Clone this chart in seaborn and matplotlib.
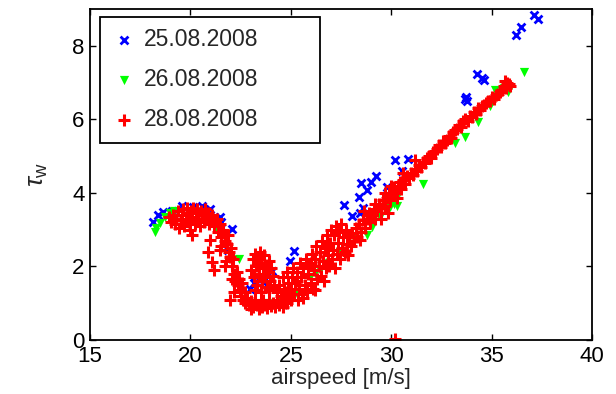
import matplotlib
matplotlib.use("Agg")
import matplotlib.pyplot as plt
import seaborn as sns
import pandas as pd

# ---------------- data ----------------
labels = ["25.08.2008", "26.08.2008", "28.08.2008"]
colors = ["#0000ff", "#00ff00", "#ff0000"]

blue_x = [37.1, 37.3, 36.45, 36.2, 34.27, 34.5, 34.62, 33.73, 33.78, 33.7,
          30.17, 30.86, 30.54, 29.25, 28.99, 28.5, 28.8, 28.38, 29.79, 27.65,
          28.07, 28.45, 28.6, 25.14, 24.96, 24.08, 23.6, 23.17, 22.95, 18.14,
          18.39, 18.62, 19.1, 19.58, 20.13, 20.6, 20.98, 21.45, 21.5, 22.08,
          21.85, 23.25]
blue_y = [8.84, 8.72, 8.52, 8.3, 7.24, 7.12, 7.08, 6.62, 6.5, 6.55,
          4.9, 4.93, 4.6, 4.45, 4.3, 4.28, 4.08, 3.89, 4.15, 3.67,
          3.36, 3.45, 3.6, 2.43, 2.15, 1.87, 1.58, 1.55, 1.4, 3.22,
          3.4, 3.47, 3.52, 3.63, 3.62, 3.65, 3.55, 3.34, 3.2, 3.02,
          2.45, 1.58]

green_x = [36.61, 35.17, 35.8, 35.6, 34.92, 34.32, 33.18, 33.68, 31.56, 30.34,
           29.94, 30.29, 30.15, 29.44, 29.04, 28.77, 28.15, 27.6, 27.45, 26.2,
           25.96, 26.45, 23.8, 18.24, 18.3, 18.49, 18.74, 18.98, 19.2, 24.5,
           25.3, 26.9, 22.4, 21.3]
green_y = [7.3, 6.8, 6.75, 6.85, 6.35, 5.93, 5.36, 5.52, 4.25, 3.95,
           3.62, 3.65, 3.7, 3.35, 3.06, 2.86, 2.78, 2.39, 2.4, 1.82,
           1.7, 1.9, 1.0, 2.94, 3.05, 3.18, 3.35, 3.46, 3.5, 1.05,
           1.25, 2.1, 2.2, 3.0]

red_x = [
    # hump
    18.95, 19.05, 19.15, 19.25, 19.3, 19.4, 19.45, 19.55, 19.6, 19.65,
    19.7, 19.8, 19.85, 19.9, 19.95, 20.0, 20.05, 20.1, 20.15, 20.1,
    20.25, 20.3, 20.35, 20.4, 20.5, 20.55, 20.6, 20.7, 20.75, 20.8,
    20.9, 20.95, 21.05, 21.1, 21.2,
    # descent
    21.2, 21.3, 21.35, 21.45, 21.5, 21.6, 21.62, 21.5, 21.7, 21.8,
    21.85, 21.45, 21.9, 21.95, 22.0, 21.7, 21.75, 22.05, 22.1, 22.15,
    22.3, 22.05, 22.2, 22.35, 22.15, 22.45, 22.5, 22.6, 21.97, 22.7,
    20.98, 20.88, 21.1, 21.2, 22.4, 22.55,
    # bottom
    22.7, 22.8, 22.9, 23.0, 23.1, 23.2, 23.3, 23.4, 23.5, 23.55,
    23.6, 23.7, 23.8, 23.9, 24.0, 24.1, 24.2, 24.3, 24.4, 24.5,
    24.6, 24.7, 24.8, 23.0,
    # blob
    23.0, 23.1, 23.15, 23.2, 23.25, 23.3, 23.35, 23.4, 23.45, 23.5,
    23.55, 23.6, 23.65, 23.7, 23.75, 23.8, 23.85, 23.9, 23.95, 24.0,
    24.1, 23.2, 23.5, 23.9, 24.15,
    # broad rising band
    24.3, 24.4, 24.5, 24.6, 24.65, 24.75, 24.8, 24.85, 24.9, 25.0,
    25.05, 25.1, 25.15, 25.2, 25.3, 25.35, 25.4, 25.45, 25.5, 25.55,
    25.6, 25.7, 25.75, 25.8, 25.85, 25.9, 26.0, 26.05, 26.1, 26.15,
    26.2, 26.25, 26.3, 26.4, 26.45, 26.5, 26.55, 26.6, 26.65, 26.7,
    26.75, 26.8, 26.85, 26.9, 26.95, 27.0, 27.05, 27.1, 27.15, 27.2,
    27.25, 27.3, 27.35, 27.4, 27.45, 27.5, 27.55, 27.6, 27.7, 27.75,
    27.8, 27.9, 27.85, 25.0, 25.6, 26.2, 24.7, 25.3, 26.0, 26.8,
    # narrow rising band
    28.0, 28.05, 28.15, 28.25, 28.3, 28.45, 28.4, 28.5, 28.6, 28.7,
    28.8, 28.9, 28.95, 29.05, 29.15, 29.2, 29.3, 29.4, 29.5, 29.6,
    29.7, 29.8, 29.9, 29.95, 30.05, 30.15, 30.25, 30.35, 30.45, 30.5,
    30.6, 30.7, 30.8, 30.9, 31.0, 31.1, 31.2, 31.3, 31.4, 31.5,
    31.6, 31.7, 31.8, 31.9, 32.0, 32.1, 32.2, 32.3, 32.4, 32.5,
    32.6, 32.7, 32.8, 32.9, 33.0, 33.1, 33.2, 33.3, 33.4, 33.5,
    33.6, 33.7, 33.8, 33.9, 34.0, 34.1, 34.2, 34.3, 34.4, 34.5,
    34.6, 34.7, 34.8, 34.9, 35.0, 35.1, 35.2, 35.3, 35.4, 35.5,
    35.6, 35.7, 35.75, 35.85, 35.9, 35.65, 29.85, 30.3, 29.5, 30.6,
    31.2, 30.0, 29.2, 28.65, 29.7,
    # outlier
    30.2,
]
red_y = [
    # hump
    3.35, 3.2, 3.4, 3.15, 3.3, 3.5, 3.05, 3.25, 3.4, 3.55,
    3.1, 3.3, 3.6, 3.45, 3.2, 3.0, 3.5, 3.35, 3.6, 2.85,
    3.15, 3.45, 3.55, 3.3, 3.1, 3.5, 3.4, 3.2, 3.55, 3.35,
    3.45, 3.15, 3.3, 3.4, 3.25,
    # descent
    3.1, 3.3, 2.95, 3.15, 2.8, 3.0, 2.9, 2.55, 2.7, 2.6,
    2.85, 2.45, 2.4, 2.25, 2.5, 2.0, 2.15, 2.0, 2.2, 1.8,
    1.85, 1.65, 1.6, 1.5, 1.3, 1.35, 1.2, 1.1, 1.1, 1.3,
    2.72, 2.4, 2.12, 1.9, 1.65, 1.55,
    # bottom
    1.0, 1.15, 0.95, 1.05, 0.9, 1.1, 0.95, 0.85, 1.0, 0.9,
    1.1, 0.95, 0.88, 1.05, 0.92, 1.0, 0.9, 1.1, 0.95, 1.05,
    0.9, 1.15, 1.0, 0.85,
    # blob
    1.9, 2.2, 1.7, 2.35, 2.0, 1.5, 2.25, 1.8, 2.4, 2.1,
    1.6, 1.95, 2.3, 1.7, 2.05, 1.45, 1.85, 2.15, 1.6, 1.95,
    1.75, 1.35, 1.3, 1.35, 1.5,
    # broad rising band
    1.3, 1.5, 1.2, 1.7, 1.4, 1.3, 1.85, 1.55, 1.15, 1.4,
    1.7, 1.95, 1.25, 1.55, 1.85, 1.1, 1.4, 2.1, 1.7, 1.25,
    1.95, 1.5, 2.2, 1.3, 1.8, 2.05, 1.55, 2.35, 1.4, 1.9,
    2.2, 2.55, 1.65, 2.0, 2.4, 1.75, 2.7, 2.15, 1.6, 2.5,
    1.95, 2.85, 2.3, 2.0, 2.65, 3.0, 2.2, 2.45, 2.85, 1.95,
    3.1, 2.35, 2.65, 2.95, 2.2, 3.15, 2.5, 2.8, 2.4, 3.0,
    2.6, 2.85, 2.3, 1.1, 1.15, 1.35, 1.0, 1.6, 2.1, 2.55,
    # narrow rising band
    2.55, 2.9, 2.7, 3.05, 2.8, 2.72, 3.15, 2.95, 3.25, 3.05,
    3.3, 3.45, 3.2, 3.4, 3.55, 3.3, 3.5, 3.7, 3.6, 3.8,
    3.65, 3.85, 4.0, 3.8, 3.95, 4.15, 4.0, 4.2, 4.3, 4.1,
    4.35, 4.25, 4.45, 4.4, 4.55, 4.5, 4.65, 4.6, 4.75, 4.7,
    4.85, 4.8, 4.95, 5.0, 4.95, 5.1, 5.15, 5.2, 5.3, 5.25,
    5.4, 5.35, 5.45, 5.55, 5.5, 5.65, 5.7, 5.75, 5.85, 5.8,
    5.95, 6.0, 5.95, 6.1, 6.05, 6.2, 6.15, 6.3, 6.25, 6.35,
    6.4, 6.45, 6.5, 6.5, 6.6, 6.55, 6.65, 6.7, 6.75, 6.8,
    6.9, 6.85, 7.0, 6.95, 6.9, 7.05, 3.45, 3.85, 3.3, 4.55,
    4.9, 4.2, 3.7, 3.5, 4.0,
    # outlier
    0.03,
]

x_ticks = [15, 20, 25, 30, 35, 40]
y_ticks = [0, 2, 4, 6, 8]

# ---------------- plotting ----------------
sns.set_style("ticks")
plt.rcParams["font.family"] = ["Liberation Sans", "DejaVu Sans"]
plt.rcParams["mathtext.fontset"] = "custom"
plt.rcParams["mathtext.rm"] = "Liberation Sans"
plt.rcParams["mathtext.it"] = "Liberation Sans:italic"

fig = plt.figure(figsize=(6.16, 3.94), dpi=100)
ax = fig.add_axes([90 / 616, 54 / 394, 502 / 616, 331 / 394])

df_b = pd.DataFrame({"airspeed": blue_x, "tau": blue_y})
df_g = pd.DataFrame({"airspeed": green_x, "tau": green_y})
df_r = pd.DataFrame({"airspeed": red_x, "tau": red_y})

sns.scatterplot(data=df_b, x="airspeed", y="tau", ax=ax, marker="x",
                color=colors[0], s=32, linewidth=2.0, label=labels[0])
sns.scatterplot(data=df_g, x="airspeed", y="tau", ax=ax, marker="v",
                color=colors[1], s=44, linewidth=0, label=labels[1])
sns.scatterplot(data=df_r, x="airspeed", y="tau", ax=ax, marker="+",
                color=colors[2], s=64, linewidth=2.2, label=labels[2])

ax.set_xlim(15, 40)
ax.set_ylim(0, 9)
ax.set_xticks(x_ticks)
ax.set_yticks(y_ticks)
ax.tick_params(direction="in", length=4, width=1, top=True, right=True,
               labelsize=16, colors="black", pad=4)
for sp in ax.spines.values():
    sp.set_linewidth(1.3)
    sp.set_color("black")

ax.set_xlabel("airspeed [m/s]", fontsize=16, labelpad=1)
ax.set_ylabel(r"$\tau_{\mathrm{w}}$", fontsize=19, labelpad=16)

leg = ax.legend(loc="upper left", bbox_to_anchor=(0.02, 0.0, 0.438, 0.976),
                mode="expand", borderaxespad=0, fontsize=16.5, frameon=True,
                fancybox=False, framealpha=1, edgecolor="black",
                handlelength=1.1, handletextpad=0.32, labelspacing=0.74,
                borderpad=0.5, scatterpoints=1)
leg.get_frame().set_linewidth(1.3)

fig.savefig("out.png", dpi=100)
